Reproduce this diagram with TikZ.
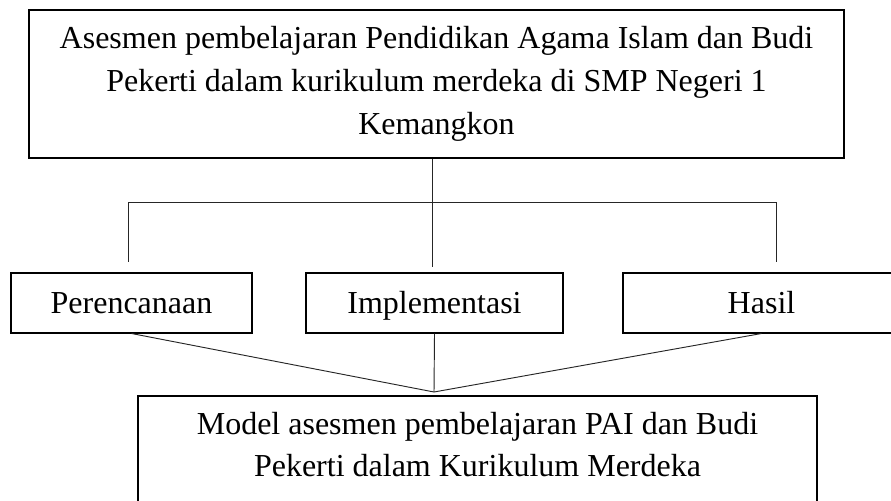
\documentclass[tikz,border=0pt]{standalone}
\usepackage{fontspec}
\setmainfont{Liberation Serif}
\begin{document}
\begin{tikzpicture}[x=0.75pt, y=-0.75pt]

    \tikzset{
      box node/.style={draw, line width=1.5pt, inner sep=0pt,
        font=\fontsize{24}{32}\selectfont},
      link line/.style={line width=0.7pt, draw=black!85}
    }
    \useasboundingbox (0,0) rectangle (891,500);

    % ================================================================================================
    % 方框
    % ================================================================================================
    \node [box node, align=center, minimum width=611pt, minimum height=111pt] (asesmen) at (436.5,84)
    {Asesmen pembelajaran Pendidikan Agama Islam dan Budi\\Pekerti dalam kurikulum merdeka di SMP Negeri 1\\Kemangkon};

    \foreach \n/\x/\w/\t in {plan/131.5/180.75/Perencanaan, impl/434.5/192.75/Implementasi, hasil/761.5/207.75/Hasil}
    \node [box node, text height=21pt, text depth=5pt, minimum width=\w pt, minimum height=45pt] (\n) at (\x,302.5) {\t};

    \node [box node, align=center, anchor=north, minimum width=509.25pt, inner ysep=12pt] (model) at (477.5,395)
    {Model asesmen pembelajaran PAI dan Budi\\Pekerti dalam Kurikulum Merdeka\\ \mbox{}};

    % ================================================================================================
    % 节点
    % ================================================================================================
    \foreach \n/\x in {l/128, m/432, r/776}
    \coordinate (hub-\n) at (\x,202);

    \foreach \n/\x/\y in {l/128/262, m/432/267, r/776/262}
    \coordinate (stub-\n) at (\x,\y);

    \coordinate (meet) at (434,392);

    % ================================================================================================
    % 连接
    % ================================================================================================
    \draw [link line] (asesmen.south -| hub-m) -- (hub-m);
    \draw [link line] (hub-l) -- (hub-r);

    \foreach \n in {l,m,r}
    \draw [link line] (hub-\n) -- (stub-\n);

    \foreach \n in {plan,impl,hasil}
    \draw [link line] (\n.south) -- (meet);

  \end{tikzpicture}
\end{document}
